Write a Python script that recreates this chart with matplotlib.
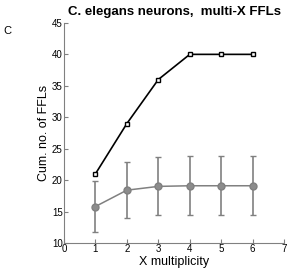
import matplotlib
matplotlib.use("Agg")
import matplotlib.pyplot as plt

plt.rcParams["font.family"] = ["Liberation Sans", "DejaVu Sans"]

x_mult = [1, 2, 3, 4, 5, 6]
real_ffl = [21, 29, 36, 40, 40, 40]
rand_mean = [15.8, 18.4, 19.0, 19.1, 19.1, 19.1]
rand_lo = [11.8, 13.9, 14.4, 14.4, 14.4, 14.4]
rand_hi = [19.9, 22.9, 23.6, 23.8, 23.8, 23.8]

fig = plt.figure(figsize=(2.89, 2.73), dpi=100)
ax = fig.add_axes([0.2215, 0.11, 0.7615, 0.806])

err_lo = [m - l for m, l in zip(rand_mean, rand_lo)]
err_hi = [h - m for m, h in zip(rand_mean, rand_hi)]
ax.errorbar(x_mult, rand_mean, yerr=[err_lo, err_hi], color="#808080", linewidth=1.1,
            marker="o", markersize=5, markerfacecolor="#8c8c8c", markeredgecolor="#808080",
            capsize=2, elinewidth=1.2, capthick=1.0)
ax.plot(x_mult, real_ffl, color="black", linewidth=1.2, marker="s", markersize=3.5,
        markerfacecolor="white", markeredgecolor="black", markeredgewidth=1.0)

ax.set_xlim(0, 7)
ax.set_ylim(10, 45)
ax.set_xticks(range(0, 8))
ax.set_yticks(range(10, 46, 5))
ax.spines[["top", "right"]].set_visible(False)
for s in ["left", "bottom"]:
    ax.spines[s].set_color("#808080")
ax.tick_params(direction="in", length=3, labelsize=7, color="#808080", pad=1)
ax.set_xlabel("X multiplicity", fontsize=9, labelpad=1)
ax.set_ylabel("Cum. no. of FFLs", fontsize=9, labelpad=1)
ax.set_title("C. elegans neurons,  multi-X FFLs", fontsize=9.5, fontweight="bold", pad=6)
fig.text(0.012, 0.875, "C", fontsize=8)

fig.savefig("out.png", dpi=100)
